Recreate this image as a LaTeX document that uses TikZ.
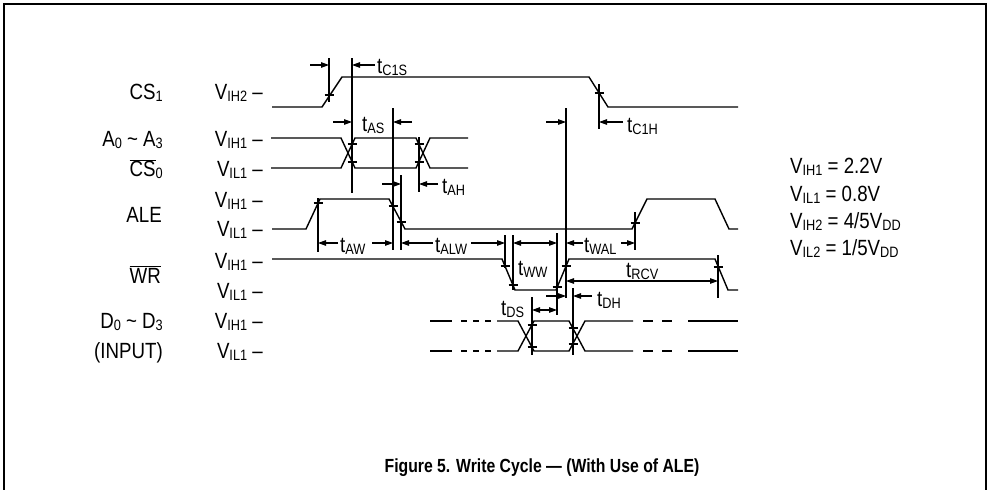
\documentclass[tikz,border=0pt]{standalone}
\usepackage{fontspec}
\setmainfont{Liberation Sans}[FakeStretch=0.85]
\usetikzlibrary{arrows.meta}
\newcommand{\sbs}[1]{\raisebox{-0.1em}{\fontsize{15}{17}\selectfont #1}}
\newcommand{\ovl}[1]{\ensuremath{\overline{\mbox{#1}}}}
\newcommand{\lev}[1]{V\sbs{#1} --}

\begin{document}
\begin{tikzpicture}[x=1pt,y=-1pt,
  wave/.style={line width=1.4pt},
  guide/.style={line width=1.1pt},
  meas/.style={line width=1.1pt},
  >={Stealth[length=8pt,width=5.5pt,inset=0pt]}]
\tikzstyle{every node}=[font=\fontsize{22}{25}\selectfont, inner sep=0pt]
\useasboundingbox (0,0) rectangle (989,490);
\draw [line width=1.5pt] (4,490) -- (4,4) -- (986,4) -- (986,490);

% signal names
\node [anchor=base east] (cs1) at (163,99.3) {CS\sbs{1}};
\node [anchor=base east] (adr) at (163,146.7) {A\sbs{0} \textasciitilde{} A\sbs{3}};
\node [anchor=base east] (cs0) at (163,176.7) {\ovl{CS}\sbs{0}};
\node [anchor=base east] (ale) at (162,222) {ALE};
\node [anchor=base east] (wr) at (161,283) {\ovl{WR}};
\node [anchor=base east] (dat) at (163,328) {D\sbs{0} \textasciitilde{} D\sbs{3}};
\node [anchor=base east] (inp) at (163,358) {(INPUT)};

% levels
\node [anchor=base east] (l1) at (263,99.3) {\lev{IH2}};
\node [anchor=base east] (l2) at (263,146.7) {\lev{IH1}};
\node [anchor=base east] (l3) at (263,176.7) {\lev{IL1}};
\node [anchor=base east] (l4) at (263,207) {\lev{IH1}};
\node [anchor=base east] (l5) at (263,236.7) {\lev{IL1}};
\node [anchor=base east] (l6) at (263,268) {\lev{IH1}};
\node [anchor=base east] (l7) at (263,298) {\lev{IL1}};
\node [anchor=base east] (l8) at (263,328) {\lev{IH1}};
\node [anchor=base east] (l9) at (263,358) {\lev{IL1}};

% waveforms
\draw [wave] (272,107) -- (322,107) -- (342,77) -- (589,77) -- (608,107) -- (738,107);
\draw [wave] (271,138) -- (341,138) -- (355,168) -- (416,168) -- (430,138) -- (468,138);
\draw [wave] (271,168) -- (341,168) -- (355,138) -- (416,138) -- (430,168) -- (468,168);
\draw [wave] (272,229) -- (306,229) -- (320,199) -- (389,199) -- (405,229) -- (632,229)
  -- (647,199) -- (715,199) -- (729,229) -- (738,229);
\draw [wave] (272,259) -- (502,259) -- (515,290) -- (556,290) -- (569,259) -- (715,259)
  -- (728,290) -- (738,290);
\draw [wave] (497,321) -- (518,321) -- (534,351) -- (569,351) -- (585,321) -- (633,321);
\draw [wave] (497,351) -- (518,351) -- (534,321) -- (569,321) -- (585,351) -- (633,351);
\foreach \y in {321,351} {
  \foreach \a/\b in {430/452,461/467,473/479,485/491,643/653,662/672,688/738}
    \draw [wave] (\a,\y) -- (\b,\y);
}

% reference lines and crossing marks
\foreach \x/\ya/\yb in {329/58/102, 352/58/193, 393/108/250, 401/175/250, 419/137/192,
  318/198/252, 505/235/268, 513/235/290, 557/233/315, 566/108/298, 599/84/129,
  635/212/250, 718/255/298, 532/297/355, 573/288/355}
  \draw [guide] (\x,\ya) -- (\x,\yb);
\foreach \x/\y in {329/95, 352/144, 352/162, 419/144, 419/162, 318/203, 393/206, 401/222,
  505/266, 513/285, 557/287, 566/266, 599/93, 635/223, 718/267,
  532/325, 532/347, 573/328, 573/344}
  \draw [guide] (\x-4.5,\y) -- (\x+4.5,\y);

% timing arrows
\draw [meas,->] (310,65) -- (329,65);
\draw [meas,->] (375,65) -- (352,65);
\draw [meas,->] (333,122) -- (352,122);
\draw [meas,->] (412,122) -- (393,122);
\draw [meas,->] (382,184) -- (401,184);
\draw [meas,->] (438,184) -- (419,184);
\draw [meas,->] (338,243) -- (318,243);
\draw [meas,->] (372,243) -- (393,243);
\draw [meas,->] (433,243) -- (401,243);
\draw [meas,->] (471,243) -- (505,243);
\draw [meas,<->] (513,243) -- (557,243);
\draw [meas,->] (583,243) -- (566,243);
\draw [meas,->] (621,243) -- (635,243);
\draw [meas,<->] (566,281) -- (718,281);
\draw [meas,->] (546,122) -- (566,122);
\draw [meas,->] (623,122) -- (599,122);
\draw [meas,->] (546,296) -- (566,296);
\draw [meas,->] (592,296) -- (573,296);
\draw [meas,<->] (532,310) -- (557,310);

% timing names
\node [anchor=base west] (tcs) at (377,73.3) {t\sbs{C1S}};
\node [anchor=base west] (tas) at (362,131) {t\sbs{AS}};
\node [anchor=base west] (tah) at (442,193) {t\sbs{AH}};
\node [anchor=base west] (taw) at (340,252) {t\sbs{AW}};
\node [anchor=base west] (talw) at (435,252) {t\sbs{ALW}};
\node [anchor=base west] (tww) at (518,275) {t\sbs{WW}};
\node [anchor=base west] (twal) at (584,252) {t\sbs{WAL}};
\node [anchor=base west] (trcv) at (626,277) {t\sbs{RCV}};
\node [anchor=base west] (tch) at (627,132) {t\sbs{C1H}};
\node [anchor=base west] (tdh) at (597,306) {t\sbs{DH}};
\node [anchor=base west] (tds) at (501,315) {t\sbs{DS}};

% legend
\node [anchor=base west] (v1) at (790,173.3) {V\sbs{IH1} = 2.2V};
\node [anchor=base west] (v2) at (790,201.7) {V\sbs{IL1} = 0.8V};
\node [anchor=base west] (v3) at (790,228.3) {V\sbs{IH2} = 4/5V\sbs{DD}};
\node [anchor=base west] (v4) at (790,255) {V\sbs{IL2} = 1/5V\sbs{DD}};

\node [anchor=base, font=\bfseries\fontsize{19}{22}\selectfont] (cap) at (542,472)
  {\addfontfeature{FakeStretch=0.83}Figure 5. Write Cycle --- (With Use of ALE)};
\end{tikzpicture}
\end{document}
